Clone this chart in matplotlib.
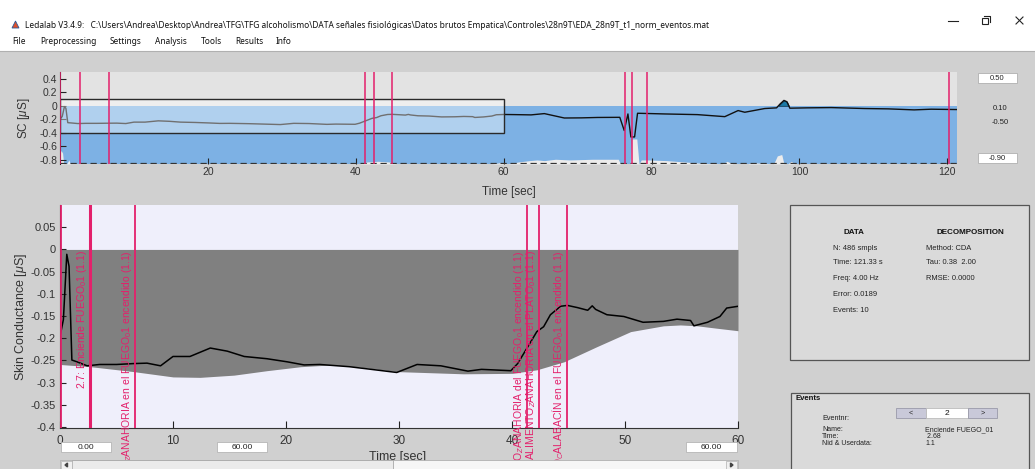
import matplotlib
matplotlib.use('Agg')
import matplotlib.pyplot as plt
from matplotlib.patches import Rectangle, Polygon
import numpy as np

plt.rcParams['font.family'] = ['Liberation Sans', 'DejaVu Sans']
plt.rcParams['axes.unicode_minus'] = False
plt.rcParams['mathtext.fontset'] = 'custom'
plt.rcParams['mathtext.rm'] = 'Liberation Sans'
plt.rcParams['mathtext.it'] = 'Liberation Sans:italic'

# ---------------- data ----------------
sc_time = [0, 0.3, 0.6, 0.8, 1.05, 1.5, 2.4, 3.5, 5.0, 6.5, 7.7, 8.9, 10.0, 11.5, 13.3,
           14.8, 16.3, 18.3, 20.1, 21.6, 23.0, 25.6, 26.9, 29.8, 31.6, 33.7, 36.1, 37.3,
           39.9, 40.5, 41.4, 42.2, 42.8, 43.4, 44.3, 44.9, 45.8, 46.7, 47.1, 47.4, 48.4,
           49.9, 51.6, 53.4, 54.6, 55.8, 56.1, 57.3, 58.4, 59.0, 60.0, 61.5, 63.7, 65.5,
           68.2, 70.5, 72.7, 75.7, 76.3, 76.8, 77.2, 77.7, 78.1, 80.0, 81.7, 86.2, 89.9,
           91.7, 92.6, 95.3, 96.9, 97.4, 97.9, 98.3, 98.7, 101.0, 104.3, 108.8, 112.0,
           115.5, 117.8, 121.3]
sc_value = [-0.196, -0.158, -0.011, -0.038, -0.249, -0.253, -0.262, -0.259, -0.259, -0.257,
            -0.256, -0.262, -0.241, -0.241, -0.222, -0.229, -0.241, -0.246, -0.253, -0.260,
            -0.259, -0.264, -0.268, -0.277, -0.259, -0.262, -0.274, -0.270, -0.273, -0.257,
            -0.219, -0.185, -0.174, -0.147, -0.128, -0.126, -0.131, -0.137, -0.127, -0.135,
            -0.147, -0.151, -0.164, -0.162, -0.157, -0.160, -0.172, -0.164, -0.151, -0.132,
            -0.128, -0.130, -0.134, -0.115, -0.180, -0.178, -0.172, -0.170, -0.365, -0.120,
            -0.460, -0.460, -0.110, -0.115, -0.120, -0.130, -0.160, -0.070, -0.095, -0.040,
            -0.030, 0.030, 0.080, 0.060, -0.035, -0.030, -0.026, -0.040, -0.045, -0.060,
            -0.050, -0.055]

tonic_time = [0, 2.7, 6.5, 10.0, 12.4, 15.4, 18.3, 21.3, 24.0, 26.5, 29.8, 35.7, 40.0,
              42.2, 44.6, 47.5, 50.5, 53.4, 54.9, 56.4, 58.0, 60.0]
tonic_value = [-0.259, -0.264, -0.275, -0.287, -0.288, -0.283, -0.273, -0.264, -0.260,
               -0.265, -0.275, -0.280, -0.279, -0.271, -0.253, -0.219, -0.185, -0.172,
               -0.170, -0.172, -0.177, -0.183]

driver_time = [0, 0.15, 0.35, 0.5, 0.9, 1.2, 1.4, 1.6, 40.5, 41.5, 43.0, 44.5, 45.5,
               58.5, 59.5, 60.5, 61.0, 62.0, 63.5, 64.5, 65.5, 67.0, 69.0, 72.0, 75.5,
               75.8, 76.6, 77.1, 77.3, 78.0, 78.3, 78.6, 79.5, 82.0, 84.5, 86.8, 89.5,
               90.2, 91.0, 93.0, 93.5, 96.5, 97.0, 97.6, 97.9, 98.4, 98.9, 99.3, 121.3]
driver_value = [-0.70, -0.66, -0.70, -0.86, -0.86, -0.80, -0.86, -0.86, -0.86, -0.83,
                -0.82, -0.83, -0.86, -0.86, -0.84, -0.86, -0.85, -0.83, -0.81, -0.80,
                -0.81, -0.79, -0.80, -0.79, -0.79, -0.86, -0.86, -0.86, -0.49, -0.49,
                -0.86, -0.80, -0.80, -0.81, -0.83, -0.85, -0.86, -0.82, -0.86, -0.86,
                -0.84, -0.86, -0.74, -0.72, -0.86, -0.86, -0.82, -0.86, -0.86]

event_times = [0.05, 2.68, 6.62, 41.3, 42.4, 44.9, 76.4, 77.3, 79.4, 120.2]
event_labels = {
    2.68: '2.7: Enciende FUEGO$_0$1 (1.1)',
    6.62: 'O$_Z$ANAHORIA en el FUEGO$_0$1 encendido (1.1)',
    41.3: 'TO$_Z$ANAHORIA del FUEGO$_0$1 encendido (1.1)',
    42.4: 'ALIMENTO$_Z$ANAHORIA en el PLATO$_0$1 (1.1)',
    44.9: 'O$_C$ALABACÍN en el FUEGO$_0$1 encendido (1.1)',
}
selected_event = 2.68

top_yticks = [0.4, 0.2, 0, -0.2, -0.4, -0.6, -0.8]
top_yticklabels = ['0.4', '0.2', '0', '-0.2', '-0.4', '-0.6', '-0.8']
top_xticks = [20, 40, 60, 80, 100, 120]
main_yticks = [0.05, 0, -0.05, -0.1, -0.15, -0.2, -0.25, -0.3, -0.35, -0.4]
main_yticklabels = ['0.05', '0', '-0.05', '-0.1', '-0.15', '-0.2', '-0.25', '-0.3', '-0.35', '-0.4']
main_xticks = [0, 10, 20, 30, 40, 50, 60]

view_window = (0, 60, -0.4, 0.1)   # x0, x1, y0, y1
overview_ylim = (-0.86, 0.5)

title_text = ('Ledalab V3.4.9:   C:\\Users\\Andrea\\Desktop\\Andrea\\TFG\\TFG alcoholismo\\DATA señales '
              'fisiológicas\\Datos brutos Empatica\\Controles\\28n9T\\EDA_28n9T_t1_norm_eventos.mat')
menu_items = ['File', 'Preprocessing', 'Settings', 'Analysis', 'Tools', 'Results', 'Info']
data_info = ['N: 486 smpls', 'Time: 121.33 s', 'Freq: 4.00 Hz', 'Error: 0.0189', 'Events: 10']
decomp_info = ['Method: CDA', 'Tau: 0.38  2.00', 'RMSE: 0.0000']
event_info_keys = ['Name:', 'Time:', 'Nid & Userdata:']
event_info_vals = ['Enciende FUEGO_01', ' 2.68', '1.1']

# ---------------- figure ----------------
W, H = 1035, 469
fig = plt.figure(figsize=(W / 100, H / 100), dpi=100)
fig.patch.set_facecolor('#d0d0d0')
RED = '#e3206b'


def ax_rect(x0, y0, x1, y1):
    return [x0 / W, 1 - y1 / H, (x1 - x0) / W, (y1 - y0) / H]


bg = fig.add_axes([0, 0, 1, 1], zorder=-5)
bg.set_xlim(0, W); bg.set_ylim(H, 0); bg.axis('off')
fg = fig.add_axes([0, 0, 1, 1], zorder=10)
fg.set_xlim(0, W); fg.set_ylim(H, 0); fg.axis('off')

# window chrome
bg.add_patch(Rectangle((0, 0), W, 51, facecolor='white', edgecolor='none'))
bg.plot([0, W], [51, 51], color='#b0b0b0', lw=0.8)
fg.add_patch(Polygon([[12, 28], [15.5, 21], [19, 28]], closed=True, facecolor='#e0502a', edgecolor='#2a5a9a', lw=0.6))
fg.text(25, 25, title_text, fontsize=6, family=['Noto Sans', 'DejaVu Sans'], va='center', ha='left', color='#111')
menu_x = [12, 40, 110, 155, 201, 235, 276]
for mx, m in zip(menu_x, menu_items):
    fg.text(mx, 42, m, fontsize=6, family=['Noto Sans', 'DejaVu Sans'], va='center', ha='left', color='#111')
fg.plot([948, 958], [21, 21], color='#222', lw=0.8)
fg.add_patch(Rectangle((982, 18), 6, 6, fill=False, edgecolor='#222', lw=0.8))
fg.plot([984, 990, 990], [16, 16, 22], color='#222', lw=0.8)
fg.plot([1016, 1023], [17, 24], color='#222', lw=0.8)
fg.plot([1016, 1023], [24, 17], color='#222', lw=0.8)

# ---------------- overview axes ----------------
ax1 = fig.add_axes(ax_rect(60, 72, 957, 164))
ax1.set_facecolor('#e3e3e3')
ax1.set_xlim(0, 121.3)
ax1.set_ylim(*overview_ylim)
ax1.axhspan(overview_ylim[0], 0, color='#7db1e4', lw=0, zorder=0.5)
ax1.fill_between(driver_time, overview_ylim[0], driver_value, color='#ececec', lw=0, zorder=1)
sv = np.array(sc_value)
ax1.fill_between(sc_time, sv, 0, where=sv > 0, interpolate=True, facecolor='#1c7aa6',
                 edgecolor='#0b3550', lw=0.6, zorder=1.5)
ax1.plot(sc_time, sc_value, color='#111', lw=1.0, zorder=2)
ax1.axhline(overview_ylim[0] + 0.01, color='#333', lw=0.9, ls=(0, (5, 3)), zorder=2)
x0, x1, y0, y1 = view_window
ax1.add_patch(Rectangle((x0, y0), x1 - x0, y1 - y0, facecolor='white', alpha=0.4, edgecolor='none', zorder=3))
ax1.add_patch(Rectangle((x0, y0), x1 - x0, y1 - y0, fill=False, edgecolor='#2a2a2a', lw=1.0, zorder=3.2))
for t in event_times:
    ax1.axvline(t, color=RED, lw=1.1, zorder=4)
for s in ['top', 'right', 'bottom']:
    ax1.spines[s].set_visible(False)
ax1.spines['left'].set_color('#222')
ax1.set_yticks(top_yticks)
ax1.set_yticklabels(top_yticklabels)
ax1.set_xticks(top_xticks)
ax1.tick_params(direction='in', length=4, labelsize=7.5, pad=2, colors='#222', labelcolor='#333')
ax1.set_ylabel('SC [$\\mu$S]', fontsize=8.5, color='#333')
ax1.yaxis.set_label_coords(-0.031, 0.5)
ax1.set_xlabel('Time [sec]', fontsize=8.5, color='#333')
ax1.xaxis.set_label_coords(0.5, -0.24)

# right side scale boxes
for yy, txt in [(73, '0.50'), (153, '-0.90')]:
    fg.add_patch(Rectangle((978, yy), 39, 10, facecolor='white', edgecolor='#b0b0b0', lw=0.6))
    fg.text(997.5, yy + 5, txt, fontsize=5.5, ha='center', va='center', color='#222')
fg.text(1000, 108, '0.10', fontsize=5.5, ha='center', va='center', color='#222')
fg.text(1000, 123, '-0.50', fontsize=5.5, ha='center', va='center', color='#222')

# ---------------- main axes ----------------
ax2 = fig.add_axes(ax_rect(60, 205, 738, 428))
ax2.set_facecolor('#efeffb')
ax2.set_xlim(view_window[0], view_window[1])
ax2.set_ylim(-0.402, 0.1)
ax2.fill_between(tonic_time, tonic_value, 0, color='#808080', lw=0, zorder=1)
ax2.plot(sc_time, sc_value, color='black', lw=1.1, zorder=2)
for t in event_times:
    if view_window[0] <= t <= view_window[1]:
        ax2.axvline(t, color=RED, lw=2.2 if t == selected_event else 1.3, zorder=3)
        if t in event_labels:
            ax2.text(t - 0.08, -0.002, event_labels[t], rotation=90, ha='right', va='top',
                     color=RED, fontsize=7.5, clip_on=False, zorder=4)
for s in ['top', 'right']:
    ax2.spines[s].set_visible(False)
ax2.spines['bottom'].set_color('#333')
ax2.spines['left'].set_color('#222')
ax2.set_yticks(main_yticks)
ax2.set_yticklabels(main_yticklabels)
ax2.set_xticks(main_xticks)
ax2.tick_params(axis='y', direction='in', length=4, labelsize=8, pad=3, colors='#222', labelcolor='#333')
ax2.tick_params(axis='x', direction='in', length=5, labelsize=8.5, pad=5, colors='#222', labelcolor='#333')
ax2.set_ylabel('Skin Conductance [$\\mu$S]', fontsize=9, color='#333')
ax2.yaxis.set_label_coords(-0.046, 0.5)
ax2.set_xlabel('Time [sec]', fontsize=9, color='#333')
ax2.xaxis.set_label_coords(0.4985, -0.103)

# textboxes under main axes
for (bx0, bx1), txt in [((61, 111), '0.00'), ((217, 267), '60.00'), ((686, 737), '60.00')]:
    fg.add_patch(Rectangle((bx0, 442), bx1 - bx0, 10.5, facecolor='white', edgecolor='#b5b5b5', lw=0.6))
    fg.text((bx0 + bx1) / 2, 447.5, txt, fontsize=6, ha='center', va='center', color='#222')

# slider
fg.add_patch(Rectangle((60, 460), 678, 10, facecolor='#f6f6f6', edgecolor='#b0b0b0', lw=0.6))
fg.add_patch(Rectangle((72, 460), 321, 10, facecolor='#ebebeb', edgecolor='#a8a8a8', lw=0.6))
fg.add_patch(Rectangle((61, 461), 11, 8, facecolor='#f0f0f0', edgecolor='#b0b0b0', lw=0.5))
fg.add_patch(Rectangle((726, 461), 11, 8, facecolor='#f0f0f0', edgecolor='#b0b0b0', lw=0.5))
fg.add_patch(Polygon([[65, 465], [67.5, 463], [67.5, 467]], closed=True, color='#444'))
fg.add_patch(Polygon([[733, 465], [730.5, 463], [730.5, 467]], closed=True, color='#444'))

# info panel
fg.add_patch(Rectangle((790, 205), 239, 155, facecolor='#dadada', edgecolor='#555', lw=0.9))
fg.text(854, 232, 'DATA', fontsize=5.8, weight='bold', ha='center', va='center', color='#111')
fg.text(970, 232, 'DECOMPOSITION', fontsize=5.8, weight='bold', ha='center', va='center', color='#111')
rows_y = [248, 263, 279, 294, 310]
for yy, txt in zip(rows_y, data_info):
    fg.text(833, yy, txt, fontsize=5.4, ha='left', va='center', color='#222')
for yy, txt in zip(rows_y, decomp_info):
    fg.text(926, yy, txt, fontsize=5.4, ha='left', va='center', color='#222')

# events panel
fg.add_patch(Rectangle((791, 393), 238, 80, facecolor='#dadada', edgecolor='#555', lw=0.9))
fg.text(795, 398.5, 'Events', fontsize=5.6, weight='bold', ha='left', va='center', color='#111')
fg.text(822, 418, 'Eventnr:', fontsize=5.2, ha='left', va='center', color='#222')
fg.add_patch(Rectangle((896, 408), 30, 10.5, facecolor='#c9c9d9', edgecolor='#9a9aaa', lw=0.6))
fg.add_patch(Rectangle((926, 408), 42, 10.5, facecolor='white', edgecolor='#bbbbbb', lw=0.6))
fg.add_patch(Rectangle((968, 408), 29, 10.5, facecolor='#c9c9d9', edgecolor='#9a9aaa', lw=0.6))
fg.text(911, 413.3, '<', fontsize=5.2, ha='center', va='center', color='#222')
fg.text(947, 413.3, '2', fontsize=6, ha='center', va='center', color='#111')
fg.text(982.5, 413.3, '>', fontsize=5.2, ha='center', va='center', color='#222')
for yy, k, v in zip([429.5, 436.5, 443.5], event_info_keys, event_info_vals):
    fg.text(822, yy, k, fontsize=5.0, ha='left', va='center', color='#222')
    fg.text(925, yy, v, fontsize=5.0, ha='left', va='center', color='#222')

fig.savefig('out.png', dpi=100, facecolor=fig.get_facecolor())
